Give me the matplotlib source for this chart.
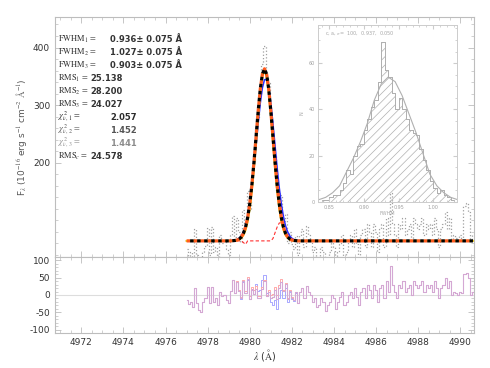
import numpy as np
import matplotlib
matplotlib.use("Agg")
import matplotlib.pyplot as plt
from matplotlib.ticker import MultipleLocator

plt.rcParams["axes.unicode_minus"] = False
plt.rcParams["mathtext.fontset"] = "stix"
plt.rcParams["hatch.linewidth"] = 0.5

# -----------------------------
# Data
# -----------------------------
wave = np.round(np.arange(4977.0, 4990.65, 0.1), 2)
continuum = 64.0

flux = [50, 38, 45, 30, 85, 40, 22, 14, 44, 55,
        86, 40, 88, 45, 54, 34, 74, 60, 64, 50,
        40, 75, 108, 70, 104, 80, 62, 118, 95, 150,
        118, 175, 205, 262, 280, 318, 372, 403, 350, 338,
        282, 240, 214, 150, 148, 143, 98, 110, 60, 80,
        58, 50, 72, 40, 74, 84, 54, 89, 74, 64,
        44, 54, 30, 34, 54, 44, 19, 34, 44, 64,
        54, 24, 44, 59, 74, 34, 44, 64, 74, 54,
        84, 59, 34, 74, 84, 54, 94, 79, 54, 94,
        79, 44, 84, 94, 54, 104, 74, 148, 94, 74,
        54, 94, 84, 104, 74, 84, 94, 64, 104, 94,
        84, 94, 104, 74, 94, 84, 94, 74, 104, 84,
        54, 84, 94, 114, 84, 104, 64, 74, 69, 64,
        74, 69, 124, 129, 114, 64, 74]

# line profiles of the three fits (continuum elsewhere)
fit1_start = 4979.2
fit1_core = [64.3, 64.7, 65.5, 67.3, 70.8, 77.1, 87.8, 104.5, 128.7, 161.1,
             200.9, 245.4, 289.7, 328.0, 353.8, 363.0, 353.8, 328.0, 289.7, 245.4,
             200.9, 161.1, 128.7, 104.5, 87.8, 77.1, 70.8, 67.3, 65.5, 64.7, 64.3]
fit2_start = 4979.2
fit2_core = [64.5, 65.1, 66.3, 68.6, 72.7, 79.5, 90.2, 106.1, 128.2, 156.7,
             191.2, 229.5, 268.3, 303.2, 329.8, 344.1, 344.1, 329.8, 303.2, 268.3,
             229.5, 191.2, 156.7, 128.2, 106.1, 90.2, 79.5, 72.7, 68.6, 66.3,
             65.1, 64.5]
fit3_start = 4979.3
fit3_core = [64.4, 64.9, 66.2, 68.8, 73.9, 82.8, 97.6, 119.9, 151.0, 190.5,
             235.8, 282.0, 322.3, 350.1, 360.0, 350.1, 322.3, 282.0, 235.8, 190.5,
             151.0, 119.9, 97.6, 82.8, 73.9, 68.8, 66.2, 64.9, 64.4]
# red dashed component
comp_dip_start = 4979.7
comp_dip = [61, 58]
comp_bump_start = 4981.1
comp_bump = [68, 78, 88, 95, 96, 90, 80, 71, 66]

# inset: FWHM distribution of the Monte Carlo runs
hist_edges = np.round(np.arange(0.835, 1.0351, 0.005), 3)
hist_counts = [0, 1, 1, 2, 3, 3, 5, 8, 14, 12,
               20, 24, 25, 31, 36, 41, 44, 52, 69, 57,
               54, 47, 40, 45, 40, 36, 31, 30, 29, 23,
               18, 14, 9, 6, 4, 5, 3, 2, 1, 0]
curve_x = [0.835, 0.845, 0.855, 0.865, 0.875, 0.885, 0.895, 0.905, 0.915, 0.925,
           0.935, 0.945, 0.955, 0.965, 0.975, 0.985, 0.995, 1.005, 1.015, 1.025, 1.035]
curve_y = [1, 2, 4, 7, 13, 19, 26, 34, 44, 51,
           54, 52, 46, 38, 30, 21, 12, 7, 4, 2, 1]

labels = [r"FWHM$_1$ =", r"FWHM$_2$ =", r"FWHM$_3$ =",
          r"RMS$_1$ =", r"RMS$_2$ =", r"RMS$_3$ =",
          r"$\chi^2_{\nu,\,1}$ =", r"$\chi^2_{\nu,\,2}$ =", r"$\chi^2_{\nu,\,3}$ =",
          r"RMS$_c$ ="]
values = ["0.936\u00b1 0.075 \u00c5", "1.027\u00b1 0.075 \u00c5", "0.903\u00b1 0.075 \u00c5",
          "25.138", "28.200", "24.027",
          "2.057", "1.452", "1.441", "24.578"]


def profile(start, core):
    out = np.full(len(wave), continuum)
    i0 = int(np.argmin(np.abs(wave - start)))
    out[i0:i0 + len(core)] = core
    return out


fit1 = profile(fit1_start, fit1_core)
fit2 = profile(fit2_start, fit2_core)
fit3 = profile(fit3_start, fit3_core)
comp = profile(comp_dip_start, comp_dip)
i0 = int(np.argmin(np.abs(wave - comp_bump_start)))
comp[i0:i0 + len(comp_bump)] = comp_bump
flux = np.array(flux, dtype=float)

GRAY = "#bdbdbd"
TXT = "#333333"


def style_axis(ax):
    for s in ax.spines.values():
        s.set_color(GRAY)
        s.set_linewidth(0.8)
    ax.tick_params(which="both", direction="in", top=True, right=True,
                   color=GRAY, labelsize=6.5, labelcolor=TXT)
    ax.tick_params(which="major", length=4, width=0.6)
    ax.tick_params(which="minor", length=2, width=0.5)


fig = plt.figure(figsize=(4.9, 3.68), dpi=100)
ax = fig.add_axes([55 / 490, 1 - 257 / 368, 419 / 490, 240 / 368])
axr = fig.add_axes([55 / 490, 1 - 333 / 368, 419 / 490, 76 / 368], sharex=ax)

# -----------------------------
# Upper panel: spectrum + fits
# -----------------------------
ax.step(wave, flux, where="mid", color="#a0a0a0", ls=":", lw=0.9)
ax.plot(wave, comp, color="#ff3030", ls=(0, (3, 2)), lw=0.8)
ax.plot(wave, fit2, color="#2a2aff", lw=1.1)
ax.plot(wave, fit3, color="#ffd800", lw=1.4)
ax.plot(wave, fit1, color="#ff5a1e", lw=2.3, ls=(0, (1.1, 1.1)))
ax.plot(wave, fit1, color="black", lw=2.3, ls=(1.1, (1.1, 1.1)))

ax.set_xlim(4970.75, 4990.65)
ax.set_ylim(36, 453)
ax.set_yticks([200, 300, 400])
ax.yaxis.set_minor_locator(MultipleLocator(20))
ax.xaxis.set_major_locator(MultipleLocator(2))
ax.xaxis.set_minor_locator(MultipleLocator(0.5))
style_axis(ax)
ax.tick_params(labelbottom=False)

shades = [TXT] * 6 + ["#2b2b2b", "#555555", "#8c8c8c", TXT]
val_x = [0.131] * 3 + [0.084] * 3 + [0.131] * 3 + [0.084]
for i, (lab, val) in enumerate(zip(labels, values)):
    y = 1 - (39.3 + 13.0 * i - 17) / 240
    ax.text(0.007, y, lab, transform=ax.transAxes, fontsize=6,
            family="STIXGeneral", color=shades[i], va="center")
    ax.text(val_x[i], y, val, transform=ax.transAxes, fontsize=6,
            color=shades[i], va="center", fontweight="bold")

# -----------------------------
# Lower panel: residuals
# -----------------------------
axr.axhline(0, color="#dddddd", lw=0.8)
axr.step(wave, flux - fit2, where="mid", color="#a8a8ff", lw=0.7)
axr.step(wave, flux - fit3, where="mid", color="#ffaaaa", lw=0.7)
axr.step(wave, flux - fit1, where="mid", color="#d4a8d4", lw=0.8)
axr.set_ylim(-110, 110)
axr.set_yticks([-100, -50, 0, 50, 100])
axr.yaxis.set_minor_locator(MultipleLocator(10))
style_axis(axr)
axr.set_xticks(np.arange(4972, 4991, 2))

fig.text(265 / 490, 1 - 355 / 368, r"$\lambda$ ($\mathrm{\AA}$)", ha="center",
         va="center", fontsize=7, color=TXT)
fig.text(22 / 490, 1 - 137 / 368,
         r"F$_\lambda$ (10$^{-16}$ erg s$^{-1}$ cm$^{-2}$ $\mathrm{\AA}^{-1}$)",
         rotation=90, ha="center", va="center", fontsize=6.5, color="#555555")

# -----------------------------
# Inset: FWHM histogram
# -----------------------------
axi = fig.add_axes([318 / 490, 1 - 202 / 368, 139 / 490, 177 / 368])
axi.patch.set_alpha(0)
IG = "#b0b0b0"
axi.stairs(hist_counts, hist_edges, fill=True, facecolor="none",
           edgecolor=IG, hatch="////", lw=0.6)
axi.stairs(hist_counts, hist_edges, color=IG, lw=0.7)
axi.plot(curve_x, curve_y, color=IG, lw=0.8)
axi.set_xlim(0.834, 1.034)
axi.set_ylim(0, 76.5)
axi.set_xticks([0.85, 0.90, 0.95, 1.00])
axi.set_xticklabels(["0.85", "0.90", "0.95", "1.00"])
axi.set_yticks([0, 20, 40, 60])
axi.xaxis.set_minor_locator(MultipleLocator(0.01))
axi.yaxis.set_minor_locator(MultipleLocator(5))
for s in axi.spines.values():
    s.set_color("#cccccc")
    s.set_linewidth(0.7)
axi.tick_params(which="both", direction="in", top=True, right=True,
                color="#cccccc", labelsize=3.5, labelcolor="#a0a0a0", pad=2)
axi.tick_params(which="major", length=3)
axi.tick_params(which="minor", length=1.5)
axi.text(0.05, 0.975, r"c, a, $\sigma$=  100,  0.937,  0.050",
         transform=axi.transAxes, fontsize=3.5, color="#a8a8a8", va="top")
axi.set_ylabel("N", fontsize=3.5, color="#a8a8a8", labelpad=3)
axi.set_xlabel("FWHM", fontsize=3.5, color="#a8a8a8", labelpad=1)

fig.savefig("out.png", dpi=100)
